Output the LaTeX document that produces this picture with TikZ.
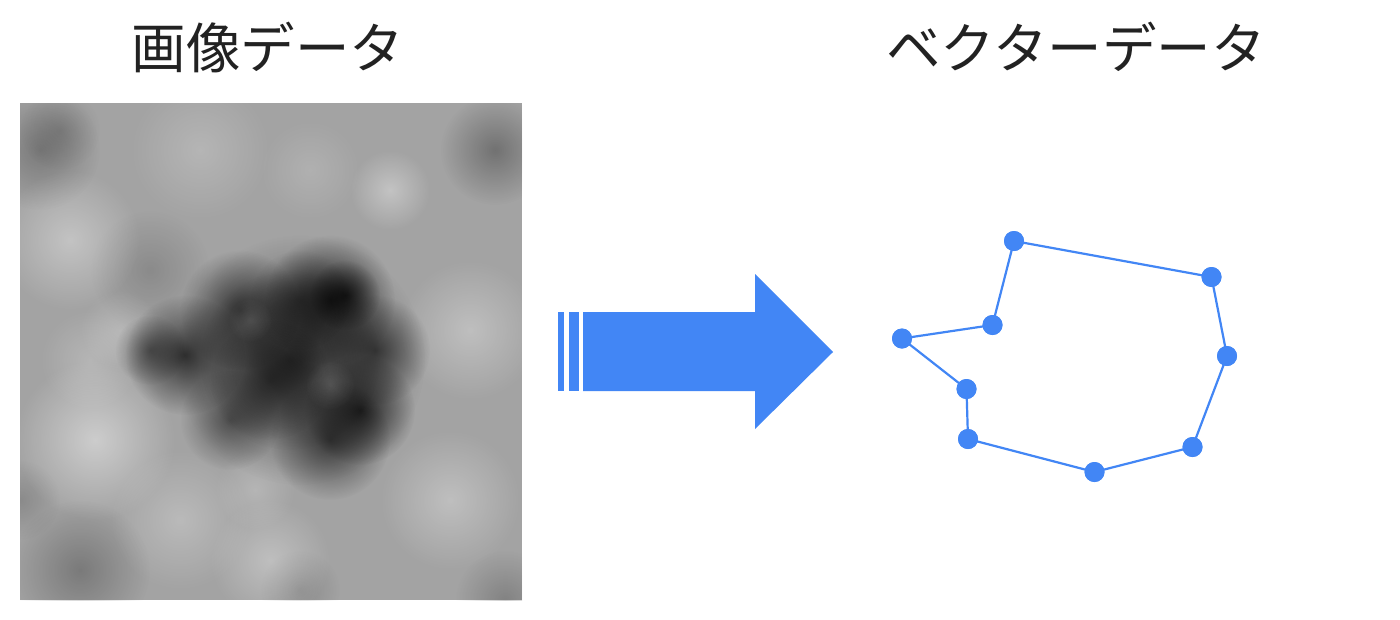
\documentclass[tikz,border=0pt]{standalone}
\usepackage{fontspec}
\setmainfont{Noto Sans CJK JP}
\usetikzlibrary{fadings}
\definecolor{gblue}{HTML}{4286F5}
\definecolor{tdark}{HTML}{222222}
\tikzfading[name=soft, inner color=transparent!0, outer color=transparent!100]
\tikzset{
  title/.style={font=\fontsize{54.5}{60}\selectfont, text=tdark, inner sep=0pt, anchor=center},
  vtx/.style={circle, fill=gblue, inner sep=0pt, minimum size=20pt},
  edge/.style={draw=gblue, line width=2.2pt},
  blob/.style={path fading=soft}
}
\begin{document}
\begin{tikzpicture}[x=1pt,y=-1pt]
\useasboundingbox (0,0) rectangle (1400,619);
\fill[white] (0,0) rectangle (1400,619);
% titles
\node[title] (t1) at (268,47) {画像データ};
\node[title] (t2) at (1076,47) {ベクターデータ};
% raster image
\begin{scope}
\clip (20,103) rectangle (522,600);
\fill[black!36] (20,103) rectangle (522,600);
\foreach \x/\y/\r/\c/\o in {
  40/150/60/black/0.25, 495/150/55/black/0.3, 80/570/70/black/0.25,
  150/270/60/black/0.15, 505/600/50/black/0.2, 300/590/40/black/0.15,
  60/130/40/black/0.15, 20/500/40/black/0.15,
  70/240/70/white/0.35, 95/440/80/white/0.45, 90/360/50/white/0.2,
  390/190/40/white/0.35, 470/330/70/white/0.3, 180/520/70/white/0.25,
  270/560/60/white/0.3, 450/500/70/white/0.3, 200/150/70/white/0.2,
  120/330/40/white/0.2, 310/170/50/white/0.15, 255/490/40/white/0.2,
  300/360/125/black/0.5, 290/360/90/black/0.5, 240/310/60/black/0.6, 185/355/60/black/0.7,
  330/300/65/black/0.7, 345/295/35/black/0.7, 360/410/55/black/0.75,
  330/440/60/black/0.6, 230/420/50/black/0.45, 375/350/55/black/0.6,
  270/380/60/black/0.45, 150/350/35/black/0.4, 300/300/50/black/0.4,
  250/320/22/white/0.12, 330/385/25/white/0.12}
  { \fill[\c, opacity=\o, blob] (\x,\y) circle (\r); }
\end{scope}
% arrow
\fill[gblue] (583,312) -- (755,312) -- (755,274) -- (833,352) -- (755,429) -- (755,391) -- (583,391) -- cycle;
\fill[gblue] (558,312) rectangle (564,391);
\fill[gblue] (569,312) rectangle (578.5,391);
% vector polygon
\node[vtx] (p1) at (1014,241) {};
\node[vtx] (p2) at (1211.5,277) {};
\node[vtx] (p3) at (1227,356) {};
\node[vtx] (p4) at (1192.5,447) {};
\node[vtx] (p5) at (1094.5,472) {};
\node[vtx] (p6) at (968,439) {};
\node[vtx] (p7) at (966.5,389) {};
\node[vtx] (p8) at (902,338.5) {};
\node[vtx] (p9) at (992.5,325) {};
\draw[edge] (p1.center) -- (p2.center) -- (p3.center) -- (p4.center) -- (p5.center) -- (p6.center) -- (p7.center) -- (p8.center) -- (p9.center) -- (p1.center);
\foreach \n in {p1,p2,p3,p4,p5,p6,p7,p8,p9} { \fill[gblue] (\n) circle (10pt); }
\end{tikzpicture}
\end{document}
